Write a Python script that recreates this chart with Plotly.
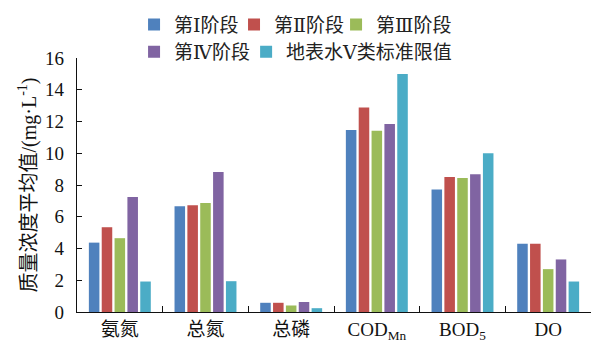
import plotly.graph_objects as go

# Water-quality indicators and mean concentrations (mg/L) by monitoring stage
categories = ["氨氮", "总氮", "总磷", "COD<sub>Mn</sub>", "BOD<sub>5</sub>", "DO"]
stage_1 = [4.37, 6.66, 0.58, 11.47, 7.71, 4.30]
stage_2 = [5.34, 6.72, 0.58, 12.88, 8.50, 4.30]
stage_3 = [4.65, 6.87, 0.41, 11.41, 8.44, 2.70]
stage_4 = [7.25, 8.82, 0.63, 11.85, 8.67, 3.31]
class_v_limit = [1.92, 1.94, 0.24, 15.0, 10.0, 1.92]

series_names = ["第Ⅰ阶段", "第Ⅱ阶段", "第Ⅲ阶段", "第Ⅳ阶段", "地表水Ⅴ类标准限值"]
series_values = [stage_1, stage_2, stage_3, stage_4, class_v_limit]
colors = ["#4F81BD", "#C0504D", "#9BBB59", "#8064A2", "#4BACC6"]
y_ticks = [0, 2, 4, 6, 8, 10, 12, 14, 16]

FONT = "Liberation Serif, Noto Sans CJK SC, serif"
LEGEND_FONT = "Liberation Serif, DejaVu Serif, Noto Sans CJK SC, serif"

# one legend box per entry so the two legend rows flow like the original key
legend_ids = ["legend", "legend2", "legend3", "legend4", "legend5"]
legend_pos = [(0.1110, 1.131), (0.3055, 1.131), (0.5040, 1.131),
              (0.1110, 1.024), (0.3290, 1.024)]

fig = go.Figure()
for name, vals, col, lg in zip(series_names, series_values, colors, legend_ids):
    fig.add_trace(go.Bar(
        x=categories, y=vals, name=name,
        marker=dict(color=col, line=dict(width=0)),
        legend=lg, showlegend=True,
    ))

legend_common = dict(
    orientation="h",
    xanchor="left", yanchor="middle",
    font=dict(family=LEGEND_FONT, size=19, color="#222"),
    bgcolor="rgba(0,0,0,0)",
    itemwidth=30,
)
legends = {
    lg: dict(x=px, y=py, **legend_common)
    for lg, (px, py) in zip(legend_ids, legend_pos)
}

fig.update_layout(
    width=592, height=343,
    margin=dict(l=77, r=1, t=58, b=31),
    paper_bgcolor="white", plot_bgcolor="white",
    showlegend=True,
    barmode="group", bargap=0.25, bargroupgap=0.18,
    font=dict(family=FONT, size=19, color="#111"),
    xaxis=dict(
        type="category",
        showline=True, linecolor="#111", linewidth=1.3,
        ticks="inside", ticklen=6, tickcolor="#111", tickwidth=1.3,
        tickson="boundaries",
        tickfont=dict(family=FONT, size=19, color="#111"),
        showgrid=False, zeroline=False,
    ),
    yaxis=dict(
        range=[0, 16], tickvals=y_ticks,
        showline=True, linecolor="#111", linewidth=1.3,
        ticks="inside", ticklen=5, tickcolor="#111", tickwidth=1.3,
        ticklabelstandoff=8,
        tickfont=dict(family=FONT, size=19, color="#111"),
        showgrid=False, zeroline=False,
        title=dict(text="质量浓度平均值/(mg·L<sup>-1</sup>)",
                   font=dict(family=FONT, size=20, color="#111"),
                   standoff=3),
        automargin=False,
    ),
    **legends,
)

fig.write_html("out.html")
